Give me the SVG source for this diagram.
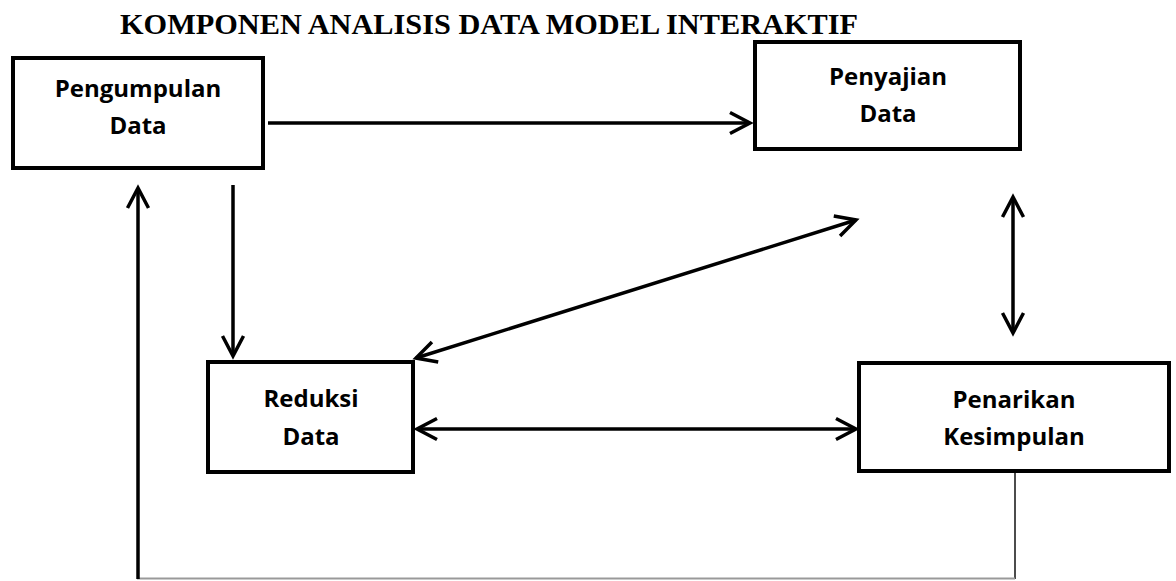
<svg xmlns="http://www.w3.org/2000/svg" width="1176" height="581" viewBox="0 0 1176 581">
<style>
.box{fill:#fff;stroke:#000;stroke-width:4}
.lbl{font-family:"Open Sans","Noto Sans",sans-serif;font-weight:700;font-size:24px;fill:#000;text-anchor:middle}
.title{font-family:"Liberation Serif","Times New Roman",serif;font-weight:700;font-size:30px;fill:#000}
.arr{stroke:#000;stroke-width:3.5;fill:none}
</style>
<defs>
<marker id="ah" markerUnits="userSpaceOnUse" viewBox="-24 -14 28 28" refX="0" refY="0" markerWidth="28" markerHeight="28" orient="auto-start-reverse">
<path d="M-20,-10.5 L0,0 L-20,10.5" fill="none" stroke="#000" stroke-width="3.5"/>
</marker>
</defs>
<rect width="1176" height="581" fill="#fff"/>
<text class="title" x="120" y="34" textLength="738" lengthAdjust="spacingAndGlyphs">KOMPONEN ANALISIS DATA MODEL INTERAKTIF</text>
<g id="connectors">
<line class="arr" x1="268" y1="123" x2="750" y2="123" marker-end="url(#ah)"/>
<line class="arr" x1="233" y1="185" x2="233" y2="356" marker-end="url(#ah)"/>
<line class="arr" x1="416" y1="358" x2="856" y2="220" marker-start="url(#ah)" marker-end="url(#ah)"/>
<line class="arr" x1="1013" y1="197" x2="1013" y2="333" marker-start="url(#ah)" marker-end="url(#ah)"/>
<line class="arr" x1="417" y1="429" x2="856" y2="429" marker-start="url(#ah)" marker-end="url(#ah)"/>
<line x1="1015" y1="472" x2="1015" y2="579" stroke="#111" stroke-width="1.5"/>
<line x1="1015" y1="578.5" x2="137" y2="578.5" stroke="#999" stroke-width="2"/>
<line class="arr" x1="138" y1="579" x2="138" y2="188" marker-end="url(#ah)"/>
</g>
<g id="pengumpulan">
<rect class="box" x="13" y="58" width="250" height="110"/>
<text class="lbl" x="138" y="97">Pengumpulan</text>
<text class="lbl" x="138" y="134">Data</text>
</g>
<g id="penyajian">
<rect class="box" x="755" y="42" width="265" height="107"/>
<text class="lbl" x="888" y="85">Penyajian</text>
<text class="lbl" x="888" y="122">Data</text>
</g>
<g id="reduksi">
<rect class="box" x="208" y="362" width="205" height="110"/>
<text class="lbl" x="311" y="407">Reduksi</text>
<text class="lbl" x="311" y="445">Data</text>
</g>
<g id="penarikan">
<rect class="box" x="859" y="363" width="310" height="108"/>
<text class="lbl" x="1014" y="408">Penarikan</text>
<text class="lbl" x="1014" y="445">Kesimpulan</text>
</g>
</svg>
